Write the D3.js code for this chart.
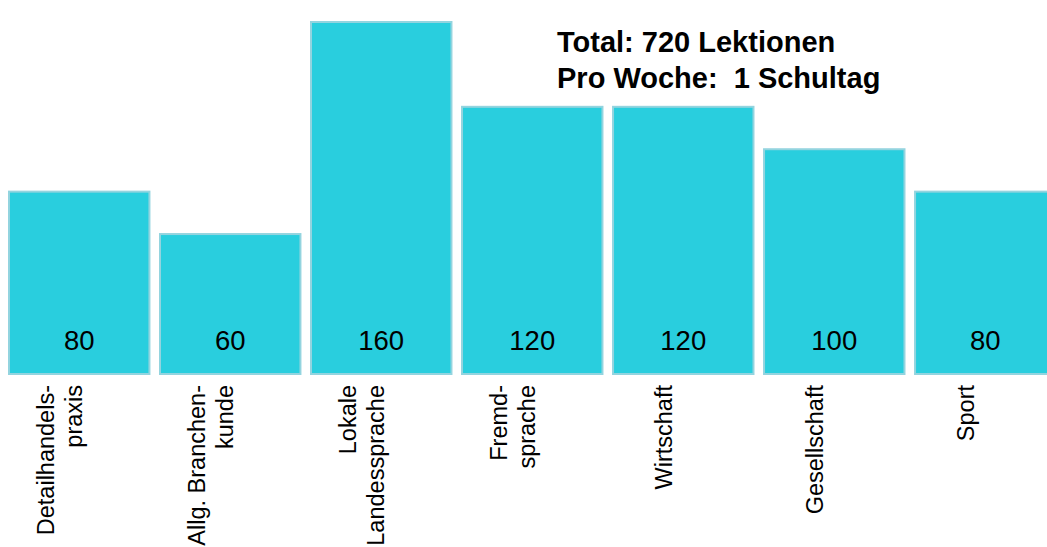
<!DOCTYPE html>
<html>
<head>
<meta charset="utf-8">
<script src="https://cdn.jsdelivr.net/npm/d3@7"></script>
<style>
  body { margin: 0; background: #fff; }
  text { font-family: "Liberation Sans", Arial, sans-serif; }
</style>
</head>
<body>
<svg id="chart" width="1047" height="547"></svg>
<script>
// data
var categories = ["Detailhandelspraxis", "Allg. Branchenkunde", "Lokale Landessprache",
    "Fremdsprache", "Wirtschaft", "Gesellschaft", "Sport"];
var lessons = [80, 60, 160, 120, 120, 100, 80];
// label lines as printed under each bar
var labelLines = [
    ["Detailhandels-", "praxis"],
    ["Allg. Branchen-", "kunde"],
    ["Lokale", "Landessprache"],
    ["Fremd-", "sprache"],
    ["Wirtschaft"],
    ["Gesellschaft"],
    ["Sport"]
];
var titleLines = ["Total: 720 Lektionen", "Pro Woche:  1 Schultag"];

var settings = {
    width: 1047,
    height: 547,
    base: 374,
    fill: "#29cede",
    stroke: "#93d4df"
};

var svg = d3.select("#chart");

var x = d3.scaleBand()
    .domain(categories)
    .range([9, 1055.5])
    .paddingInner(0.07)
    .paddingOuter(0);

// bars in the original are not quite proportional, this domain fits them best
var y = d3.scaleLinear()
    .domain([-6, 160])
    .range([settings.base, 22]);

var bars = svg.append("g");

bars.selectAll("rect")
    .data(lessons)
    .enter()
    .append("rect")
    .attr("x", function(d, i) { return x(categories[i]); })
    .attr("y", function(d) { return y(d); })
    .attr("width", x.bandwidth())
    .attr("height", function(d) { return settings.base - y(d); })
    .attr("fill", settings.fill)
    .attr("stroke", settings.stroke)
    .attr("stroke-width", 2);

bars.selectAll("text.val")
    .data(lessons)
    .enter()
    .append("text")
    .attr("class", "val")
    .attr("x", function(d, i) { return x(categories[i]) + x.bandwidth() / 2; })
    .attr("y", settings.base - 24)
    .attr("text-anchor", "middle")
    .attr("font-size", 27.5)
    .attr("fill", "#000")
    .text(function(d) { return d; });

// rotated category labels, reading bottom to top, ending just under the bars
var lineGap = 28;
var labels = svg.append("g");

labelLines.forEach(function(lines, i) {
    var c = x(categories[i]) + x.bandwidth() / 2 - 16;
    var first = c + 5 - (lines.length - 1) * lineGap / 2;
    lines.forEach(function(t, j) {
        var bx = first + j * lineGap;
        labels.append("text")
            .attr("transform", "translate(" + bx + "," + (settings.base + 11) + ") rotate(-90)")
            .attr("text-anchor", "end")
            .attr("font-size", 23.5)
            .attr("fill", "#000")
            .text(t);
    });
});

var title = svg.append("g")
    .attr("transform", "translate(557,52)");

title.selectAll("text")
    .data(titleLines)
    .enter()
    .append("text")
    .attr("y", function(d, i) { return i * 36; })
    .attr("font-size", 29)
    .attr("font-weight", "bold")
    .attr("fill", "#000")
    .style("white-space", "pre")
    .text(function(d) { return d; });
</script>
</body>
</html>
